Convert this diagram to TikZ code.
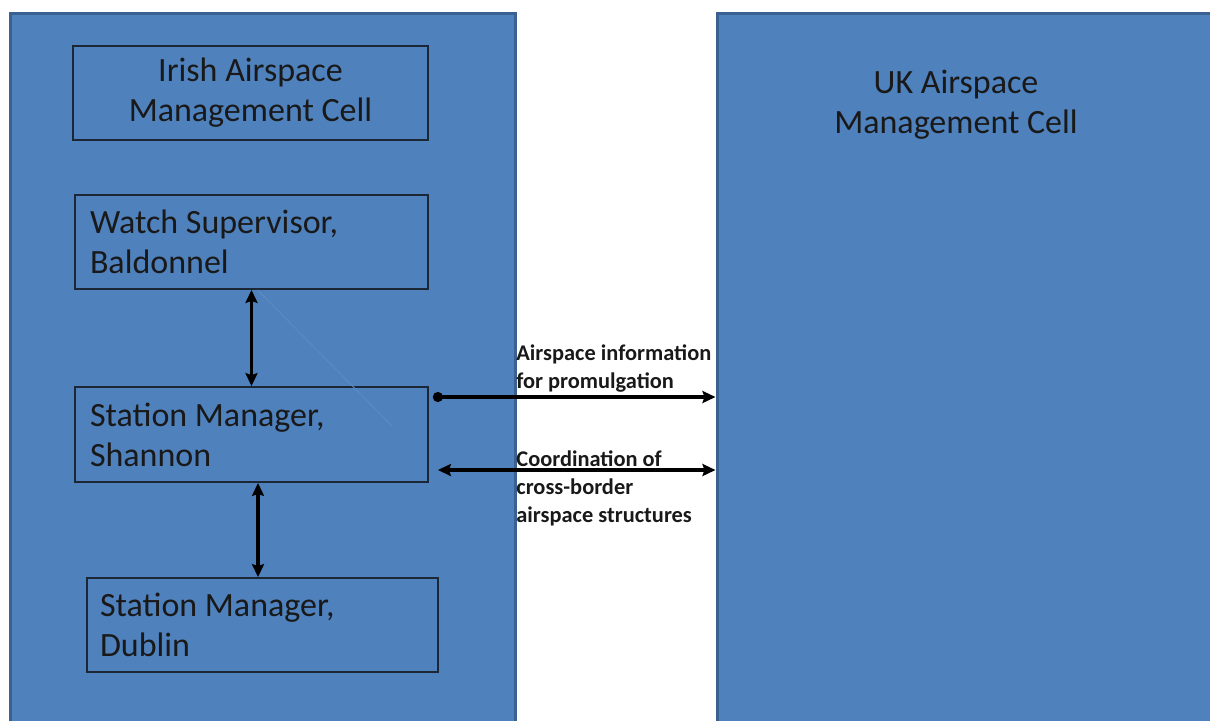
\documentclass[tikz,border=0pt]{standalone}
\usepackage{fontspec}
\setmainfont{Carlito}
\usetikzlibrary{arrows.meta, positioning}

\definecolor{cellfill}{HTML}{4F81BD}
\definecolor{celledge}{HTML}{3A6191}
\definecolor{boxedge}{HTML}{1C2736}
\definecolor{faintline}{HTML}{5F8CC2}

\begin{document}
\begin{tikzpicture}[x=0.5pt, y=-0.5pt,
    panel/.style = {draw=celledge, fill=cellfill, line width=1.5pt,
        minimum height=363.5pt, inner sep=0pt},
    unit/.style = {draw=boxedge, line width=0.9pt, inner ysep=0pt,
        minimum height=47pt, font=\fontsize{17}{20}\selectfont,
        text=black!90},
    note/.style = {inner sep=0pt, align=flush left, text=black!90,
        font=\fontsize{11.2}{14}\selectfont\bfseries},
    link/.style = {line width=1.6pt,
        {Stealth[length=6.5pt, width=6pt, inset=1pt]}-{Stealth[length=6.5pt, width=6pt, inset=1pt]}}]
    \useasboundingbox (0,0) rectangle (1210,720);
    \clip (0,0) rectangle (1210,720);
    % \draw [help lines] (0,0) grid (1210,720);
    \node (ireland) [panel, minimum width=252.5pt] at (262.5,376.5) {};
    \node (uk) [panel, minimum width=256.5pt] at (973.5,376.5) {};
    \node (ukcell) [unit, draw=none, align=flush center] at (956,105)
        {UK Airspace\\Management Cell};

    \node (iamc) [unit, align=flush center, text width=163.5pt,
        inner xsep=7pt] at (250.5,93) {Irish Airspace\\Management Cell};
    \node (watch) [unit, align=flush left, text width=161.5pt,
        inner xsep=7.5pt] at (251.5,242) {Watch Supervisor,\\Baldonnel};
    \node (shannon) [unit, align=flush left, text width=161.5pt,
        inner xsep=7.5pt, minimum height=47.5pt] at (251.5,434.5)
        {Station Manager,\\Shannon};
    \node (dublin) [unit, align=flush left, text width=162.5pt,
        inner xsep=6.5pt] at (262.5,625) {Station Manager,\\Dublin};

    \node (promul) [note, anchor=north west] at (516,344)
        {Airspace information\\for promulgation};
    \node (coord) [note, anchor=north west] at (516,450)
        {Coordination of\\cross-border\\airspace structures};

    \coordinate (faintend) at (392,426);
    \draw [faintline, line width=0.4pt] ([xshift=3pt]watch.south) -- (faintend);

    \path [link]
        (watch.south) edge (shannon.north)
        ([xshift=3.25pt]shannon.south) edge ([xshift=3.25pt]shannon.south |- dublin.north);
    \draw [line width=1.6pt,
        {Circle[length=5pt]}-{Stealth[length=6.5pt, width=6pt, inset=1pt]}]
        ([xshift=2pt, yshift=18.75pt]shannon.east) -- ([yshift=18.75pt]shannon.east -| uk.west);
    \draw [link]
        ([xshift=4.5pt, yshift=-17.75pt]shannon.east) -- ([yshift=-17.75pt]shannon.east -| uk.west);
\end{tikzpicture}
\end{document}
